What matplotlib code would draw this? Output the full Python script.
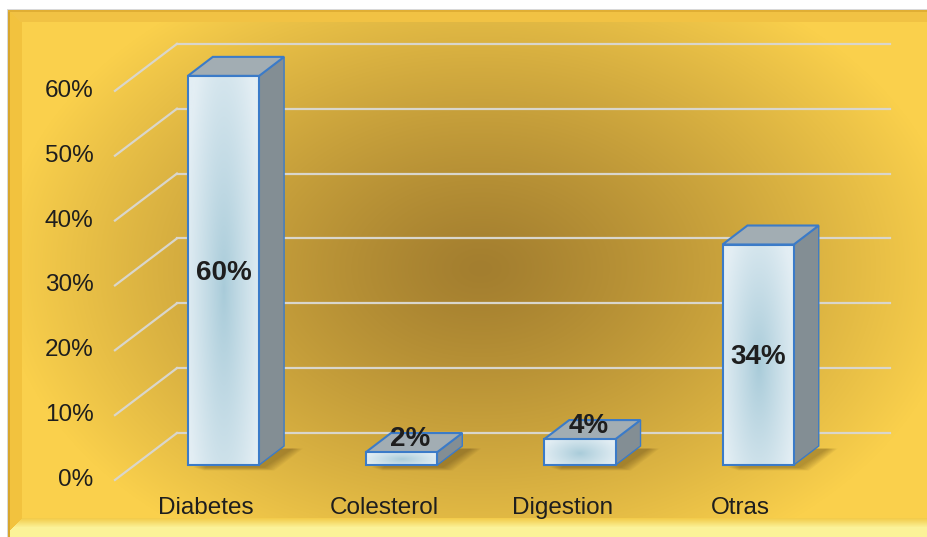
import numpy as np
import matplotlib
matplotlib.use("Agg")
import matplotlib.pyplot as plt
from matplotlib.patches import Polygon, Rectangle

plt.rcParams['font.family'] = ['Liberation Sans', 'DejaVu Sans']

# data
categories = ['Diabetes', 'Colesterol', 'Digestion', 'Otras']
values = [60, 2, 4, 34]
ticks = [0, 10, 20, 30, 40, 50, 60]
tick_labels = ['0%', '10%', '20%', '30%', '40%', '50%', '60%']

W, H = 928, 537
fig = plt.figure(figsize=(W / 100, H / 100), dpi=100)

# ---- background: golden frame with a dark radial centre ----
bg = fig.add_axes([0, 0, 1, 1])
bg.set_axis_off()
yy, xx = np.mgrid[0:H, 0:W].astype(float)
img = np.ones((H, W, 3))

dark = np.array([0xA3, 0x7E, 0x2F]) / 255
light = np.array([0xFA, 0xD0, 0x4C]) / 255
d = np.sqrt(((xx - 480) / 480) ** 2 + ((yy - 268) / 330) ** 2)
t = np.clip(d, 0, 1) ** 1.2
grad = dark[None, None, :] * (1 - t[..., None]) + light[None, None, :] * t[..., None]

inside = (xx >= 8) & (yy >= 10)
img[inside] = grad[inside]

# bevel strips
left = inside & (xx < 22) & (yy < H - (xx - 8) - 5)
img[left] = np.array([0xF2, 0xC2, 0x3E]) / 255
top = inside & (yy < 22) & (yy - 10 < xx - 8)
img[top] = np.array([0xF1, 0xC2, 0x44]) / 255
bot = inside & (yy >= 518) & (H - yy < xx - 8 + 6)
tb = np.clip((yy - 518) / 9, 0, 1)
low = (np.array([0xF3, 0xCC, 0x4C]) / 255)[None, None, :] * (1 - tb[..., None]) + \
      (np.array([0xFB, 0xF2, 0x98]) / 255)[None, None, :] * tb[..., None]
img[bot] = low[bot]
# outer border lines
img[(xx >= 8) & (xx < 10) & (yy >= 10)] = np.array([0xD8, 0xA6, 0x2C]) / 255
img[(yy >= 10) & (yy < 12) & (xx >= 8)] = np.array([0xE0, 0xAE, 0x34]) / 255
img[(xx == 7) & (yy >= 9)] = 0.85
img[(yy == 9) & (xx >= 7)] = 0.85

bg.imshow(img, extent=(0, W, H, 0), aspect='auto', interpolation='bilinear')
bg.set_xlim(0, W)
bg.set_ylim(H, 0)

# ---- main chart axes (oblique 3D projection done by hand) ----
ax = fig.add_axes([0, 0, 1, 1])
ax.set_xlim(-1.254, 3.953)
ax.set_ylim(-11.1, 71.7)
ax.set_axis_off()
ax.patch.set_alpha(0)

bw = 0.4                 # bar width
ddx, ddy = 0.14, 2.93    # bar depth offset
bkx, bky = 0.236, 4.94   # bar front plane -> back wall
wdx, wdy = 0.348, 7.25   # floor depth (front edge -> back wall)
wall_x = -0.261
wall_right = 3.74

grid_c = '#D9D6CC'
for v, lab in zip(ticks, tick_labels):
    ax.plot([wall_x, wall_right], [v + bky, v + bky], color=grid_c, lw=1.6, zorder=1)
    ax.plot([wall_x, wall_x - wdx], [v + bky, v + bky - wdy], color=grid_c, lw=1.6, zorder=1)
    ax.text(-0.73, v + bky - wdy, lab, ha='right', va='center',
            fontsize=17.5, color='#1E1E1E', zorder=5)

edge = '#3B7BC8'

# front face shading
gy, gx = np.mgrid[0:100, 0:100] / 99.0
r = np.sqrt(((gx - 0.5) / 0.55) ** 2 + ((gy - 0.55) / 0.75) ** 2)
r = np.clip(r, 0, 1) ** 0.9
c_in = np.array([0xA8, 0xCB, 0xD9]) / 255
c_out = np.array([0xE3, 0xEE, 0xF4]) / 255
face = c_in[None, None, :] * (1 - r[..., None]) + c_out[None, None, :] * r[..., None]

for i, (cat, v) in enumerate(zip(categories, values)):
    x0, x1 = i - bw / 2, i + bw / 2

    # soft shadow on the floor
    for k in range(8):
        s = 0.008 * k
        sh = Polygon([(x0 + 0.03 + s, -0.4 - s * 8), (x1 + 0.03 + s, -0.4 - s * 8),
                      (x1 + ddx + 0.05 + s, ddy - 0.4), (x0 + ddx + 0.03, ddy - 0.4)],
                     closed=True, facecolor='#4A3410', edgecolor='none', alpha=0.05, zorder=2)
        ax.add_patch(sh)

    side = Polygon([(x1, 0), (x1 + ddx, ddy), (x1 + ddx, v + ddy), (x1, v)], closed=True,
                   facecolor='#838E94', edgecolor=edge, lw=1.0, zorder=3)
    ax.add_patch(side)
    topf = Polygon([(x0, v), (x1, v), (x1 + ddx, v + ddy), (x0 + ddx, v + ddy)], closed=True,
                   facecolor='#A2ADB3', edgecolor=edge, lw=1.5, zorder=3)
    ax.add_patch(topf)

    front = Rectangle((x0, 0), bw, v, facecolor='none', edgecolor=edge, lw=1.5, zorder=4)
    ax.add_patch(front)
    im = ax.imshow(face, extent=(x0, x1, 0, v), aspect='auto', zorder=3.5,
                   interpolation='bilinear')
    im.set_clip_path(Rectangle((x0, 0), bw, v, transform=ax.transData))

    # value labels
    if v >= 10:
        ax.text(i, v / 2 - 0.4, f'{v}%', ha='center', va='center', fontsize=20,
                fontweight='bold', color='#1E1E1E', zorder=6)
    else:
        ax.text(i + 0.05, v + 2.0, f'{v}%', ha='center', va='center', fontsize=20,
                fontweight='bold', color='#1E1E1E', zorder=6)

    # category labels along the front edge of the floor
    ax.text(i - 0.1, -6.6, cat, ha='center', va='center', fontsize=17.5,
            color='#1E1E1E', zorder=5)

# restore full view after imshow calls
ax.set_xlim(-1.254, 3.953)
ax.set_ylim(-11.1, 71.7)

fig.savefig('out.png', dpi=100)
